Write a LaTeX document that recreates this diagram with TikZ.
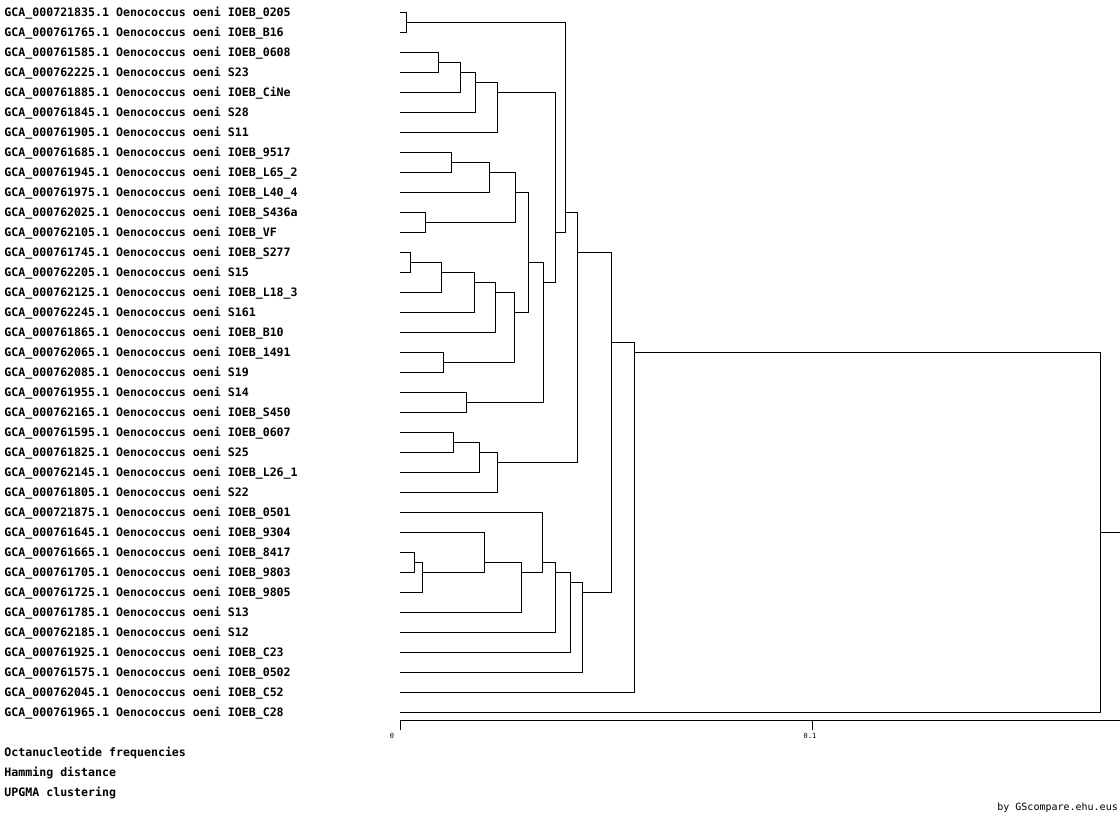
\documentclass[tikz,border=0pt]{standalone}
\usepackage{fontspec}
\setmonofont{DejaVu Sans Mono}
\newcommand\dgjoin[3]{\draw[br] (#2) -- (#1 |- #2) -- (#1 |- #3) -- (#3);}
\begin{document}
\begin{tikzpicture}[x=1pt,y=-1pt,
  br/.style={line width=1pt},
  lab/.style={font=\fontsize{11.6}{12}\selectfont\ttfamily\bfseries, anchor=base west, inner sep=0pt},
  axlab/.style={font=\fontsize{7}{8}\selectfont\ttfamily, inner sep=0pt},
  foot/.style={font=\fontsize{10}{12}\selectfont\ttfamily, anchor=base east, inner sep=0pt}]
\useasboundingbox[fill=white] (0,0) rectangle (1120,820);
% leaf labels
\foreach \t [count=\i from 0] in {
GCA\_000721835.1 Oenococcus oeni IOEB\_0205,
GCA\_000761765.1 Oenococcus oeni IOEB\_B16,
GCA\_000761585.1 Oenococcus oeni IOEB\_0608,
GCA\_000762225.1 Oenococcus oeni S23,
GCA\_000761885.1 Oenococcus oeni IOEB\_CiNe,
GCA\_000761845.1 Oenococcus oeni S28,
GCA\_000761905.1 Oenococcus oeni S11,
GCA\_000761685.1 Oenococcus oeni IOEB\_9517,
GCA\_000761945.1 Oenococcus oeni IOEB\_L65\_2,
GCA\_000761975.1 Oenococcus oeni IOEB\_L40\_4,
GCA\_000762025.1 Oenococcus oeni IOEB\_S436a,
GCA\_000762105.1 Oenococcus oeni IOEB\_VF,
GCA\_000761745.1 Oenococcus oeni IOEB\_S277,
GCA\_000762205.1 Oenococcus oeni S15,
GCA\_000762125.1 Oenococcus oeni IOEB\_L18\_3,
GCA\_000762245.1 Oenococcus oeni S161,
GCA\_000761865.1 Oenococcus oeni IOEB\_B10,
GCA\_000762065.1 Oenococcus oeni IOEB\_1491,
GCA\_000762085.1 Oenococcus oeni S19,
GCA\_000761955.1 Oenococcus oeni S14,
GCA\_000762165.1 Oenococcus oeni IOEB\_S450,
GCA\_000761595.1 Oenococcus oeni IOEB\_0607,
GCA\_000761825.1 Oenococcus oeni S25,
GCA\_000762145.1 Oenococcus oeni IOEB\_L26\_1,
GCA\_000761805.1 Oenococcus oeni S22,
GCA\_000721875.1 Oenococcus oeni IOEB\_0501,
GCA\_000761645.1 Oenococcus oeni IOEB\_9304,
GCA\_000761665.1 Oenococcus oeni IOEB\_8417,
GCA\_000761705.1 Oenococcus oeni IOEB\_9803,
GCA\_000761725.1 Oenococcus oeni IOEB\_9805,
GCA\_000761785.1 Oenococcus oeni S13,
GCA\_000762185.1 Oenococcus oeni S12,
GCA\_000761925.1 Oenococcus oeni IOEB\_C23,
GCA\_000761575.1 Oenococcus oeni IOEB\_0502,
GCA\_000762045.1 Oenococcus oeni IOEB\_C52,
GCA\_000761965.1 Oenococcus oeni IOEB\_C28}
{\node[lab] (t\i) at (4.2,{16.5+20*\i}) {\t};}
% leaf coordinates
\foreach \i in {0,...,35} {\coordinate (l\i) at (400,{12+20*\i});}
% internal nodes
\coordinate (a) at (406,22);
\coordinate (b) at (438,62);
\coordinate (c) at (460,72);
\coordinate (d) at (475,82);
\coordinate (e) at (497,92);
\coordinate (f) at (451,162);
\coordinate (g) at (489,172);
\coordinate (h) at (425,222);
\coordinate (i) at (515,192);
\coordinate (j) at (410,262);
\coordinate (k) at (441,272);
\coordinate (m) at (474,282);
\coordinate (n) at (495,292);
\coordinate (o) at (443,362);
\coordinate (p) at (514,312);
\coordinate (q) at (528,262);
\coordinate (r) at (466,402);
\coordinate (s) at (543,282);
\coordinate (t) at (555,232);
\coordinate (u) at (565,212);
\coordinate (v) at (453,442);
\coordinate (w) at (479,452);
\coordinate (x) at (497,462);
\coordinate (y) at (577,252);
\coordinate (z1) at (414,562);
\coordinate (z2) at (422,572);
\coordinate (z3) at (484,562);
\coordinate (z4) at (521,572);
\coordinate (z5) at (542,562);
\coordinate (z6) at (555.5,572);
\coordinate (z7) at (570,582);
\coordinate (z8) at (582,592);
\coordinate (R1) at (611.5,342);
\coordinate (R2) at (634,352);
\coordinate (R3) at (1100,532);
\coordinate (rootend) at (1120,532);
% joins
\dgjoin{a}{l0}{l1}
\dgjoin{b}{l2}{l3}
\dgjoin{c}{b}{l4}
\dgjoin{d}{c}{l5}
\dgjoin{e}{d}{l6}
\dgjoin{f}{l7}{l8}
\dgjoin{g}{f}{l9}
\dgjoin{h}{l10}{l11}
\dgjoin{i}{g}{h}
\dgjoin{j}{l12}{l13}
\dgjoin{k}{j}{l14}
\dgjoin{m}{k}{l15}
\dgjoin{n}{m}{l16}
\dgjoin{o}{l17}{l18}
\dgjoin{p}{n}{o}
\dgjoin{q}{i}{p}
\dgjoin{r}{l19}{l20}
\dgjoin{s}{q}{r}
\dgjoin{t}{e}{s}
\dgjoin{u}{a}{t}
\dgjoin{v}{l21}{l22}
\dgjoin{w}{v}{l23}
\dgjoin{x}{w}{l24}
\dgjoin{y}{u}{x}
\dgjoin{z1}{l27}{l28}
\dgjoin{z2}{z1}{l29}
\dgjoin{z3}{l26}{z2}
\dgjoin{z4}{z3}{l30}
\dgjoin{z5}{l25}{z4}
\dgjoin{z6}{z5}{l31}
\dgjoin{z7}{z6}{l32}
\dgjoin{z8}{z7}{l33}
\dgjoin{R1}{y}{z8}
\dgjoin{R2}{R1}{l34}
\dgjoin{R3}{R2}{l35}
\draw[br] (R3) -- (rootend);
% axis
\coordinate (ax0) at (400,720);
\coordinate (ax1) at (1120,720);
\coordinate (tk1) at (812,720);
\draw[br] (ax0) -- (ax1);
\draw[br] (ax0) -- ++(0,10);
\draw[br] (tk1) -- ++(0,10);
\node[axlab] (a0) at (392,736) {0};
\node[axlab] (a1) at (810,736) {0.1};
% notes
\node[lab] (m1) at (4.2,756.5) {Octanucleotide frequencies};
\node[lab] (m2) at (4.2,776.5) {Hamming distance};
\node[lab] (m3) at (4.2,796.5) {UPGMA clustering};
\node[foot] (ft) at (1118,810) {by GScompare.ehu.eus};
\end{tikzpicture}
\end{document}
